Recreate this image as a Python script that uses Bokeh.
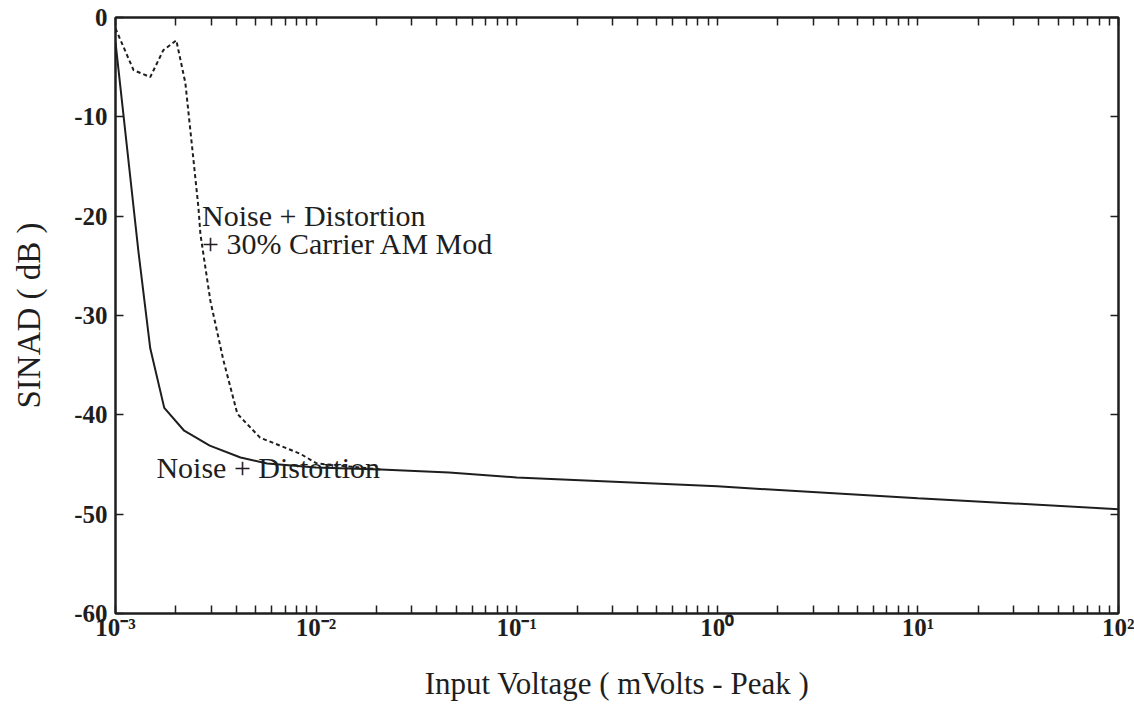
from bokeh.plotting import figure
from bokeh.models import (Range1d, LogAxis, LinearAxis, FixedTicker,
                          CustomJSTickFormatter)
from bokeh.core.properties import value
from bokeh.embed import file_html
from bokeh.resources import INLINE

# ---- data ----
nd_x = [1.0e-3, 1.3e-3, 1.49e-3, 1.75e-3, 2.2e-3, 2.95e-3, 4.2e-3, 5.7e-3,
        1.0e-2, 2.1e-2, 4.6e-2, 1.0e-1, 1.0, 10.0, 100.0]
nd_y = [-2.5, -23.5, -33.3, -39.3, -41.6, -43.1, -44.3, -44.9,
        -45.3, -45.5, -45.8, -46.3, -47.2, -48.4, -49.5]

am_x = [1.0e-3, 1.23e-3, 1.49e-3, 1.73e-3, 2.01e-3, 2.23e-3, 2.42e-3, 2.59e-3,
        2.65e-3, 2.97e-3, 3.45e-3, 4.05e-3, 5.26e-3, 8.3e-3, 1.01e-2, 2.1e-2]
am_y = [-1.1, -5.3, -6.0, -3.3, -2.3, -6.6, -13.4, -19.1,
        -21.8, -28.5, -34.5, -39.9, -42.3, -43.9, -44.9, -45.5]

x_ticks = [1e-3, 1e-2, 1e-1, 1e0, 1e1, 1e2]
x_tick_labels = ["10\u207b\u00b3", "10\u207b\u00b2", "10\u207b\u00b9", "10\u2070", "10\u00b9", "10\u00b2"]
y_ticks = [-60, -50, -40, -30, -20, -10, 0]
y_tick_labels = ["-60", "-50", "-40", "-30", "-20", "-10", "0"]

label_am = ["Noise + Distortion", "+ 30% Carrier AM Mod"]
label_am_x = [2.7e-3, 2.7e-3]
label_am_y = [-19.9, -22.8]
label_nd = ["Noise + Distortion"]
label_nd_x = [1.6e-3]
label_nd_y = [-45.3]

FONT = "Liberation Serif"
INK = "#1e1e1e"

minor = []
for d in range(-3, 2):
    for m in range(2, 10):
        minor.append(m * 10.0 ** d)

p = figure(width=1134, height=704, x_axis_type="log",
           x_range=Range1d(1e-3, 1e2), y_range=Range1d(-60, 0),
           output_backend="svg", toolbar_location=None,
           min_border_left=115, min_border_right=16,
           min_border_top=17, min_border_bottom=91)
p.background_fill_color = "white"
p.border_fill_color = "white"
p.grid.visible = False
p.outline_line_color = INK
p.outline_line_width = 2

xt = FixedTicker(ticks=x_ticks, minor_ticks=minor)
yt = FixedTicker(ticks=y_ticks, minor_ticks=[])

def style(ax):
    ax.axis_line_color = INK
    ax.axis_line_width = 2
    ax.major_tick_line_color = INK
    ax.minor_tick_line_color = INK
    ax.major_tick_line_width = 1.5
    ax.minor_tick_line_width = 1.5
    ax.major_tick_in = 8
    ax.major_tick_out = 0
    ax.minor_tick_in = 8
    ax.minor_tick_out = 0
    ax.major_label_text_font = FONT
    ax.major_label_text_font_size = "25px"
    ax.major_label_text_font_style = "bold"
    ax.major_label_text_color = INK
    ax.axis_label_text_font = FONT
    ax.axis_label_text_font_style = "normal"
    ax.axis_label_text_color = INK

xa = p.xaxis[0]
xa.ticker = xt
xa.major_label_overrides = dict(zip(x_ticks, x_tick_labels))
xa.major_label_standoff = 0
xa.axis_label = "Input Voltage ( mVolts - Peak )"
xa.axis_label_text_font_size = "31px"
xa.axis_label_standoff = 22
style(xa)

ya = p.yaxis[0]
ya.ticker = yt
ya.major_label_overrides = dict(zip(y_ticks, y_tick_labels))
ya.major_label_standoff = 8
ya.axis_label = "SINAD ( dB )"
ya.axis_label_text_font_size = "33px"
ya.axis_label_standoff = 24
style(ya)

empty = CustomJSTickFormatter(code="return ''")
top = LogAxis(ticker=xt, formatter=empty)
style(top)
top.major_label_text_font_size = "0px"
top.major_label_standoff = 0
p.add_layout(top, "above")

right = LinearAxis(ticker=yt, formatter=empty)
style(right)
right.major_label_text_font_size = "0px"
right.major_label_standoff = 0
p.add_layout(right, "right")

p.line(nd_x, nd_y, line_color=INK, line_width=2)
p.line(am_x, am_y, line_color=INK, line_width=2, line_dash="4 3")

p.text(label_am_x, label_am_y, text=label_am, text_font=value(FONT),
       text_font_size="30px", text_baseline="middle", text_align="left",
       text_color=INK)
p.text(label_nd_x, label_nd_y, text=label_nd, text_font=value(FONT),
       text_font_size="30px", text_baseline="middle", text_align="left",
       text_color=INK)

open("out.html", "w").write(file_html(p, INLINE))
